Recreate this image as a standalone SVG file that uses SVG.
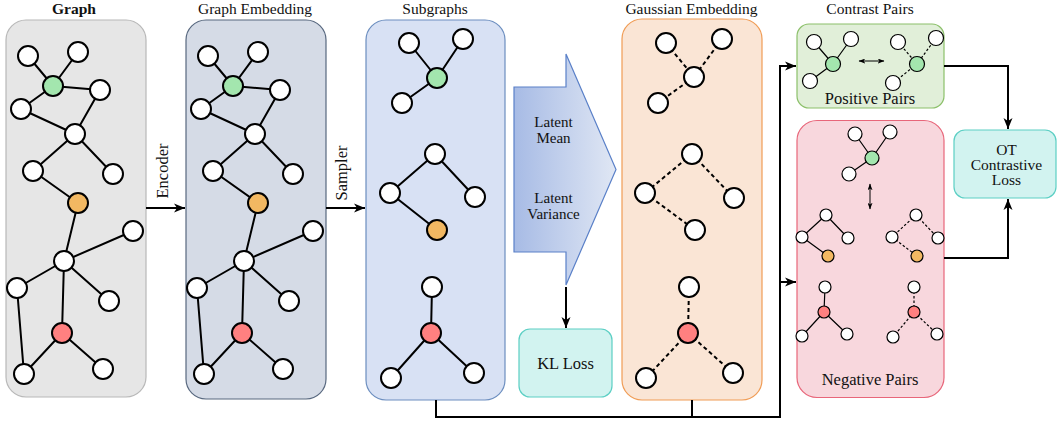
<svg xmlns="http://www.w3.org/2000/svg" width="1058" height="425" viewBox="0 0 1058 425">
  <defs>
    <style>
      text{font-family:"Liberation Serif","Times New Roman",serif;font-size:16.5px;fill:#111}
      .t{text-anchor:middle}
      .h{font-size:15.5px}
      .m{font-size:15.5px}
      .l{font-size:15px}
      .e{stroke:#000;stroke-width:2;fill:none}
      .d{stroke:#000;stroke-width:2;fill:none;stroke-dasharray:4 3}
      .n{fill:#fff;stroke:#000;stroke-width:2}
      .se{stroke:#000;stroke-width:1.2;fill:none}
      .sd{stroke:#000;stroke-width:1.2;fill:none;stroke-dasharray:2.5 2}
      .sn{fill:#fff;stroke:#000;stroke-width:1.2}
      .gr{fill:#a3e6ae}
      .or{fill:#f2b862}
      .rd{fill:#ff8080}
      .c{stroke:#000;stroke-width:2;fill:none}
      .dbl{stroke:#000;stroke-width:1;fill:none}
    </style>
    <marker id="ah" viewBox="0 0 12 10" markerWidth="12" markerHeight="10" refX="11" refY="5" orient="auto" markerUnits="userSpaceOnUse">
      <path d="M0,0.5 L11,5 L0,9.5 L3,5 z" fill="#000"/>
    </marker>
    <marker id="sa" viewBox="0 0 8 6" markerWidth="7" markerHeight="5" refX="7.5" refY="3" orient="auto-start-reverse" markerUnits="userSpaceOnUse">
      <path d="M0,0 L8,3 L0,6 L2,3 z" fill="#000"/>
    </marker>
    <linearGradient id="armGrad" x1="0" y1="0" x2="1" y2="0">
      <stop offset="0" stop-color="#a7bbe5"/>
      <stop offset="1" stop-color="#e0e7f4"/>
    </linearGradient>
    <!-- full input graph, reused for the embedding panel -->
    <g id="bigGraph">
      <path class="e" d="M28,56L53,86M78,52L53,86M53,86L100,90M53,86L21,109M21,109L75,134M100,90L75,134M75,134L33,171M75,134L113,174M33,171L78,203M78,203L64,261M64,261L133,231M64,261L17,288M64,261L109,301M64,261L62,333M17,288L24,374M62,333L24,374M62,333L103,369"/>
      <circle class="n" cx="28" cy="56" r="10"/>
      <circle class="n" cx="78" cy="52" r="10"/>
      <circle class="n gr" cx="53" cy="86" r="10"/>
      <circle class="n" cx="100" cy="90" r="10"/>
      <circle class="n" cx="21" cy="109" r="10"/>
      <circle class="n" cx="75" cy="134" r="10"/>
      <circle class="n" cx="33" cy="171" r="10"/>
      <circle class="n" cx="113" cy="174" r="10"/>
      <circle class="n or" cx="78" cy="203" r="10"/>
      <circle class="n" cx="133" cy="231" r="10"/>
      <circle class="n" cx="64" cy="261" r="10"/>
      <circle class="n" cx="17" cy="288" r="10"/>
      <circle class="n" cx="109" cy="301" r="10"/>
      <circle class="n rd" cx="62" cy="333" r="10"/>
      <circle class="n" cx="24" cy="374" r="10"/>
      <circle class="n" cx="103" cy="369" r="10"/>
    </g>
  </defs>

  <rect width="1058" height="425" fill="#fff"/>

  <!-- Graph -->
  <g id="graph">
    <text class="t h" x="74" y="13.5" font-weight="bold">Graph</text>
    <rect x="6" y="20" width="140" height="377" rx="20" fill="#e6e6e6" stroke="#b8b8b8" stroke-width="1.2"/>
    <use href="#bigGraph"/>
  </g>

  <!-- Graph Embedding -->
  <g id="graph-embedding">
    <text class="t h" x="255" y="13.5">Graph Embedding</text>
    <rect x="186" y="20" width="140" height="379" rx="20" fill="#d5dbe6" stroke="#58687f" stroke-width="1.2"/>
    <use href="#bigGraph" transform="translate(180,0)"/>
  </g>

  <!-- Subgraphs -->
  <g id="subgraphs">
    <text class="t h" x="435" y="13.5">Subgraphs</text>
    <rect x="366" y="20" width="139" height="380" rx="20" fill="#d8e1f4" stroke="#6c8ebf" stroke-width="1.2"/>
    <path class="e" d="M409,43L437,78M463,39L437,78M437,78L402,103"/>
    <circle class="n" cx="409" cy="43" r="10"/>
    <circle class="n" cx="463" cy="39" r="10"/>
    <circle class="n gr" cx="437" cy="78" r="10"/>
    <circle class="n" cx="402" cy="103" r="10"/>
    <path class="e" d="M435,154L390,193M435,154L475,197M390,193L437,230"/>
    <circle class="n" cx="435" cy="154" r="10"/>
    <circle class="n" cx="390" cy="193" r="10"/>
    <circle class="n" cx="475" cy="197" r="10"/>
    <circle class="n or" cx="437" cy="230" r="10"/>
    <path class="e" d="M432,287L431,333M431,333L391,378M431,333L474,373"/>
    <circle class="n" cx="432" cy="287" r="10"/>
    <circle class="n rd" cx="431" cy="333" r="10"/>
    <circle class="n" cx="391" cy="378" r="10"/>
    <circle class="n" cx="474" cy="373" r="10"/>
  </g>

  <!-- Latent projection arrow -->
  <g id="latent">
    <polygon points="514,87 566,87 566,54 616,169.5 566,285 566,252 514,252" fill="url(#armGrad)" stroke="#5a80c8" stroke-width="1.2"/>
    <text class="t l" x="553.5" y="126.5">Latent</text>
    <text class="t l" x="553.5" y="143">Mean</text>
    <text class="t l" x="553.5" y="202.5">Latent</text>
    <text class="t l" x="553.5" y="219">Variance</text>
  </g>

  <!-- KL Loss -->
  <g id="kl-loss">
    <rect x="519" y="329" width="93" height="68" rx="11" fill="#d2f3f0" stroke="#5ccfc4" stroke-width="1.2"/>
    <text class="t" x="565.5" y="368.5">KL Loss</text>
  </g>

  <!-- Gaussian Embedding -->
  <g id="gaussian-embedding">
    <text class="t h" x="691.5" y="13.5">Gaussian Embedding</text>
    <rect x="622" y="19" width="140" height="381" rx="20" fill="#fae5d5" stroke="#f09c55" stroke-width="1.2"/>
    <path class="d" d="M666,43L694,77M722,39L694,77M694,77L658,103"/>
    <circle class="n" cx="666" cy="43" r="10"/>
    <circle class="n" cx="722" cy="39" r="10"/>
    <circle class="n" cx="694" cy="77" r="10" fill="#b9e8a0"/>
    <circle class="n" cx="658" cy="103" r="10"/>
    <path class="d" d="M692,154L645,193M692,154L734,198M645,193L695,230"/>
    <circle class="n" cx="692" cy="154" r="10"/>
    <circle class="n" cx="645" cy="193" r="10"/>
    <circle class="n" cx="734" cy="198" r="10"/>
    <circle class="n" cx="695" cy="230" r="10" fill="#fdb860"/>
    <path class="d" d="M689,287L688,333M688,333L646,378M688,333L733,373"/>
    <circle class="n" cx="689" cy="287" r="10"/>
    <circle class="n rd" cx="688" cy="333" r="10"/>
    <circle class="n" cx="646" cy="378" r="10"/>
    <circle class="n" cx="733" cy="373" r="10"/>
  </g>

  <!-- Positive Pairs -->
  <g id="positive-pairs">
    <text class="t h" x="870" y="13.5">Contrast Pairs</text>
    <rect x="797" y="24" width="147" height="84" rx="12" fill="#e1efd9" stroke="#8cc06a" stroke-width="1.2"/>
    <path class="se" d="M814,42L833,64M851,39L833,64M833,64L810,81"/>
    <circle class="sn" cx="814" cy="42" r="7.5"/>
    <circle class="sn" cx="851" cy="39" r="7.5"/>
    <circle class="sn gr" cx="833" cy="64" r="7.5"/>
    <circle class="sn" cx="810" cy="81" r="7.5"/>
    <path class="dbl" d="M859,61H884" marker-start="url(#sa)" marker-end="url(#sa)"/>
    <path class="sd" d="M898,42L917,64M936,38L917,64M917,64L893,83"/>
    <circle class="sn" cx="898" cy="42" r="7.5"/>
    <circle class="sn" cx="936" cy="38" r="7.5"/>
    <circle class="sn gr" cx="917" cy="64" r="7.5"/>
    <circle class="sn" cx="893" cy="83" r="7.5"/>
    <text class="t" x="870" y="104">Positive Pairs</text>
  </g>

  <!-- Negative Pairs -->
  <g id="negative-pairs">
    <rect x="797" y="120.5" width="147" height="277" rx="20" fill="#f8d7dd" stroke="#e8667a" stroke-width="1.2"/>
    <path class="se" d="M855,134L872,158M890,132L872,158M872,158L849,174"/>
    <circle class="sn" cx="855" cy="134" r="7"/>
    <circle class="sn" cx="890" cy="132" r="7"/>
    <circle class="sn gr" cx="872" cy="158" r="7"/>
    <circle class="sn" cx="849" cy="174" r="7"/>
    <path class="dbl" d="M870,184V209" marker-start="url(#sa)" marker-end="url(#sa)"/>
    <path class="se" d="M826,215L802,237M826,215L848,238M802,237L828,256"/>
    <circle class="sn" cx="826" cy="215" r="6"/>
    <circle class="sn" cx="802" cy="237" r="6"/>
    <circle class="sn" cx="848" cy="238" r="6"/>
    <circle class="sn or" cx="828" cy="256" r="6"/>
    <path class="sd" d="M916,215L892,237M916,215L938,238M892,237L917,256"/>
    <circle class="sn" cx="916" cy="215" r="6"/>
    <circle class="sn" cx="892" cy="237" r="6"/>
    <circle class="sn" cx="938" cy="238" r="6"/>
    <circle class="sn or" cx="917" cy="256" r="6"/>
    <path class="se" d="M825,287L824,312M824,312L802,336M824,312L847,334"/>
    <circle class="sn" cx="825" cy="287" r="6"/>
    <circle class="sn rd" cx="824" cy="312" r="6"/>
    <circle class="sn" cx="802" cy="336" r="6"/>
    <circle class="sn" cx="847" cy="334" r="6"/>
    <path class="sd" d="M914,287L914,312M914,312L893,337M914,312L937,334"/>
    <circle class="sn" cx="914" cy="287" r="6"/>
    <circle class="sn rd" cx="914" cy="312" r="6"/>
    <circle class="sn" cx="893" cy="337" r="6"/>
    <circle class="sn" cx="937" cy="334" r="6"/>
    <text class="t" x="870" y="384.5">Negative Pairs</text>
  </g>

  <!-- OT Contrastive Loss -->
  <g id="ot-loss">
    <rect x="954" y="130" width="102" height="68" rx="11" fill="#d2f3f0" stroke="#5ccfc4" stroke-width="1.2"/>
    <text class="t m" x="1006.5" y="155">OT<tspan x="1006.5" dy="15">Contrastive</tspan><tspan x="1006.5" dy="15">Loss</tspan></text>
  </g>

  <!-- Connectors -->
  <g id="connectors">
    <path class="c" d="M146,208H185" marker-end="url(#ah)"/>
    <text transform="translate(168,171) rotate(-90)" class="t">Encoder</text>
    <path class="c" d="M326,208H365" marker-end="url(#ah)"/>
    <text transform="translate(346.5,173) rotate(-90)" class="t">Sampler</text>
    <path class="c" d="M566,287V328" marker-end="url(#ah)"/>
    <path class="c" d="M436,400V417H780V66H796" marker-end="url(#ah)"/>
    <path class="c" d="M692,400V417"/>
    <path class="c" d="M780,282H796" marker-end="url(#ah)"/>
    <path class="c" d="M944,66H1008V129" marker-end="url(#ah)"/>
    <path class="c" d="M944,258H1008V199" marker-end="url(#ah)"/>
  </g>
</svg>
